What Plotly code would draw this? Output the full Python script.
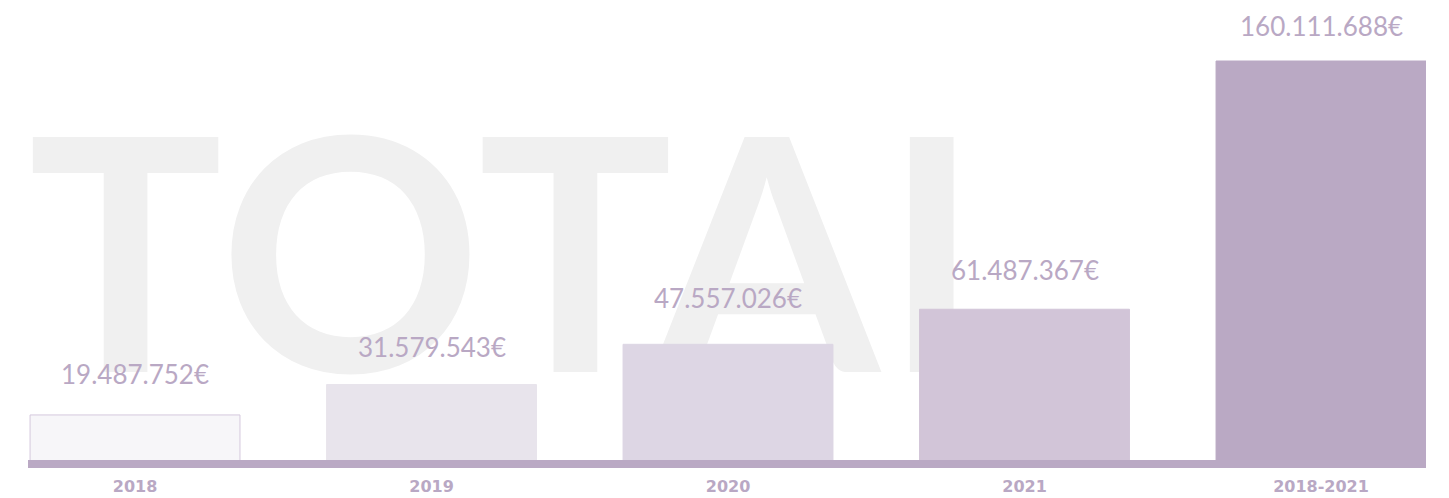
import plotly.graph_objects as go

categories = ["2018", "2019", "2020", "2021", "2018-2021"]
values = [19487752, 31579543, 47557026, 61487367, 160111688]
value_labels = ["19.487.752€", "31.579.543€", "47.557.026€", "61.487.367€", "160.111.688€"]
bar_colors = ["#f7f6f9", "#e8e4ec", "#ddd6e4", "#d2c5d8", "#baa9c4"]
bar_line_colors = ["#d5c8dd", "#e8e4ec", "#ddd6e4", "#d2c5d8", "#baa9c4"]
label_shift = [40.5, 38, 46, 39, 35.5]
watermark_text = "TOTAL"

LABEL_COLOR = "#b9a8c4"
x_idx = list(range(len(categories)))

fig = go.Figure()

# Watermark behind bars (base axes)
fig.add_trace(go.Scatter(
    x=[0.0], y=[0.368], mode="text", text=[watermark_text],
    textposition="middle right",
    textfont=dict(family="Lato", size=325, color="#f0f0f0", weight="bold"),
    cliponaxis=False, hoverinfo="skip", showlegend=False,
    xaxis="x", yaxis="y",
))

# Bars on overlaying axes
fig.add_trace(go.Bar(
    x=x_idx, y=values, width=0.708,
    marker=dict(color=bar_colors, line=dict(color=bar_line_colors, width=1)),
    hoverinfo="skip", showlegend=False,
    xaxis="x2", yaxis="y2",
))

for i, (v, lab) in enumerate(zip(values, value_labels)):
    fig.add_annotation(
        x=i, y=v, xref="x2", yref="y2", text=lab, showarrow=False,
        yanchor="middle", xanchor="center", yshift=label_shift[i],
        font=dict(family="Lato", size=26, color=LABEL_COLOR),
    )

fig.update_layout(
    width=1449, height=498,
    margin=dict(l=28, r=23, t=0, b=38),
    paper_bgcolor="white", plot_bgcolor="white",
    hovermode=False,
    xaxis=dict(range=[0, 1], visible=False, fixedrange=True),
    yaxis=dict(range=[0, 1], visible=False, fixedrange=True),
    xaxis2=dict(
        overlaying="x", range=[-0.3609, 4.3541],
        tickmode="array", tickvals=x_idx, ticktext=categories,
        showline=True, linecolor="#baa9c4", linewidth=8,
        showgrid=False, zeroline=False, ticks="", ticklabelstandoff=5,
        tickfont=dict(family="DejaVu Sans", size=16, color="#b9a8c4", weight="bold"),
        side="bottom", anchor="y2",
    ),
    yaxis2=dict(
        overlaying="y", range=[1.589e6, 184.35e6],
        visible=False, showgrid=False, zeroline=False, anchor="x2",
    ),
)

fig.write_html(
    "out.html",
    config={"displayModeBar": False},
    post_script=(
        "document.body.style.margin='0';document.body.style.overflow='hidden';"
        "document.querySelectorAll('.scatterlayer .textpoint text')"
        ".forEach(function(t){t.style.letterSpacing='4px';});"
    ),
)
